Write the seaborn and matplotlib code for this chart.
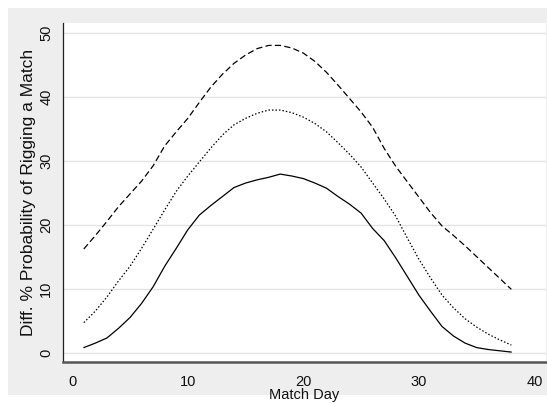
import numpy as np
import pandas as pd
import matplotlib
matplotlib.use("Agg")
import matplotlib.pyplot as plt
from matplotlib.patches import Rectangle
import seaborn as sns

# Match days and the three curves
match_day = list(range(1, 39))

lower = [0.8, 1.5, 2.3, 3.8, 5.5, 7.7, 10.3, 13.5, 16.3, 19.2,
         21.5, 23.0, 24.4, 25.8, 26.5, 27.0, 27.4, 27.9, 27.6, 27.2,
         26.5, 25.7, 24.4, 23.2, 21.8, 19.4, 17.5, 14.8, 11.9, 9.0,
         6.5, 4.1, 2.6, 1.5, 0.8, 0.5, 0.3, 0.1]

middle = [4.7, 6.5, 8.7, 11.2, 13.5, 16.3, 19.3, 22.3, 25.2, 27.6,
          29.8, 32.0, 34.0, 35.6, 36.6, 37.4, 37.9, 37.9, 37.5, 36.8,
          35.8, 34.5, 32.8, 31.0, 29.0, 26.5, 24.0, 21.3, 17.9, 14.6,
          11.7, 9.0, 7.0, 5.3, 4.0, 2.9, 2.0, 1.2]

upper = [16.2, 18.3, 20.5, 22.8, 24.8, 26.8, 29.2, 32.3, 34.5, 36.6,
         39.1, 41.5, 43.5, 45.2, 46.5, 47.5, 48.0, 48.0, 47.6, 46.8,
         45.5, 43.8, 41.8, 39.7, 37.6, 35.2, 31.9, 29.1, 26.7, 24.3,
         21.9, 19.8, 18.3, 16.7, 15.0, 13.3, 11.6, 9.9]

x_ticks = [0, 10, 20, 30, 40]
y_ticks = [0, 10, 20, 30, 40, 50]

df = pd.DataFrame({
    "day": match_day * 3,
    "value": lower + middle + upper,
    "curve": ["lower"] * 38 + ["middle"] * 38 + ["upper"] * 38,
})

# ─────────────────────────────────────────────────────────────────────────────
# Style
# ─────────────────────────────────────────────────────────────────────────────
sns.set_style("white")
plt.rcParams["font.family"] = ["Liberation Sans", "DejaVu Sans"]

W, H = 547, 403
fig = plt.figure(figsize=(W / 100, H / 100), dpi=100, facecolor="white")

# grey graph region (Stata style), kept behind the axes
bg = Rectangle((8 / W, 8 / H), 1 - 8 / W, (395 - 8) / H,
               transform=fig.transFigure, facecolor="#eeeeee",
               edgecolor="none", zorder=-10)
fig.add_artist(bg)

ax = fig.add_axes([63 / W, 1 - 362 / H, (546 - 63) / W, (362 - 23) / H])
ax.set_zorder(5)
ax.set_facecolor("white")

sns.lineplot(data=df, x="day", y="value", style="curve",
             dashes={"lower": "", "middle": (1.2, 1.6), "upper": (5, 2.6)},
             color="black", linewidth=0.9, legend=False, ax=ax)

ax.set_xlim(-0.8, 41.0)
ax.set_ylim(-1.45, 51.5)
ax.set_xticks(x_ticks)
ax.set_yticks(y_ticks)
ax.set_yticklabels([str(v) for v in y_ticks], rotation=90, va="center")

ax.grid(axis="y", color="#e4e4e4", linewidth=1.0)
ax.grid(axis="x", visible=False)
ax.set_axisbelow(True)

for side in ["top", "right"]:
    ax.spines[side].set_visible(False)
ax.spines["left"].set_color("#222222")
ax.spines["left"].set_linewidth(0.9)
ax.spines["bottom"].set_color("#555555")
ax.spines["bottom"].set_linewidth(1.8)

ax.tick_params(axis="both", direction="out", length=4, width=0.8,
               color="#222222", labelsize=10.5, labelcolor="#111111")
ax.tick_params(axis="x", pad=5)
ax.tick_params(axis="y", pad=3)

ax.set_xlabel("Match Day", fontsize=10.5, labelpad=0, color="#111111")
ax.set_ylabel("Diff. % Probability of Rigging a Match", fontsize=12.5,
              labelpad=2, color="#111111")

fig.savefig("out.png", dpi=100, facecolor="white")
